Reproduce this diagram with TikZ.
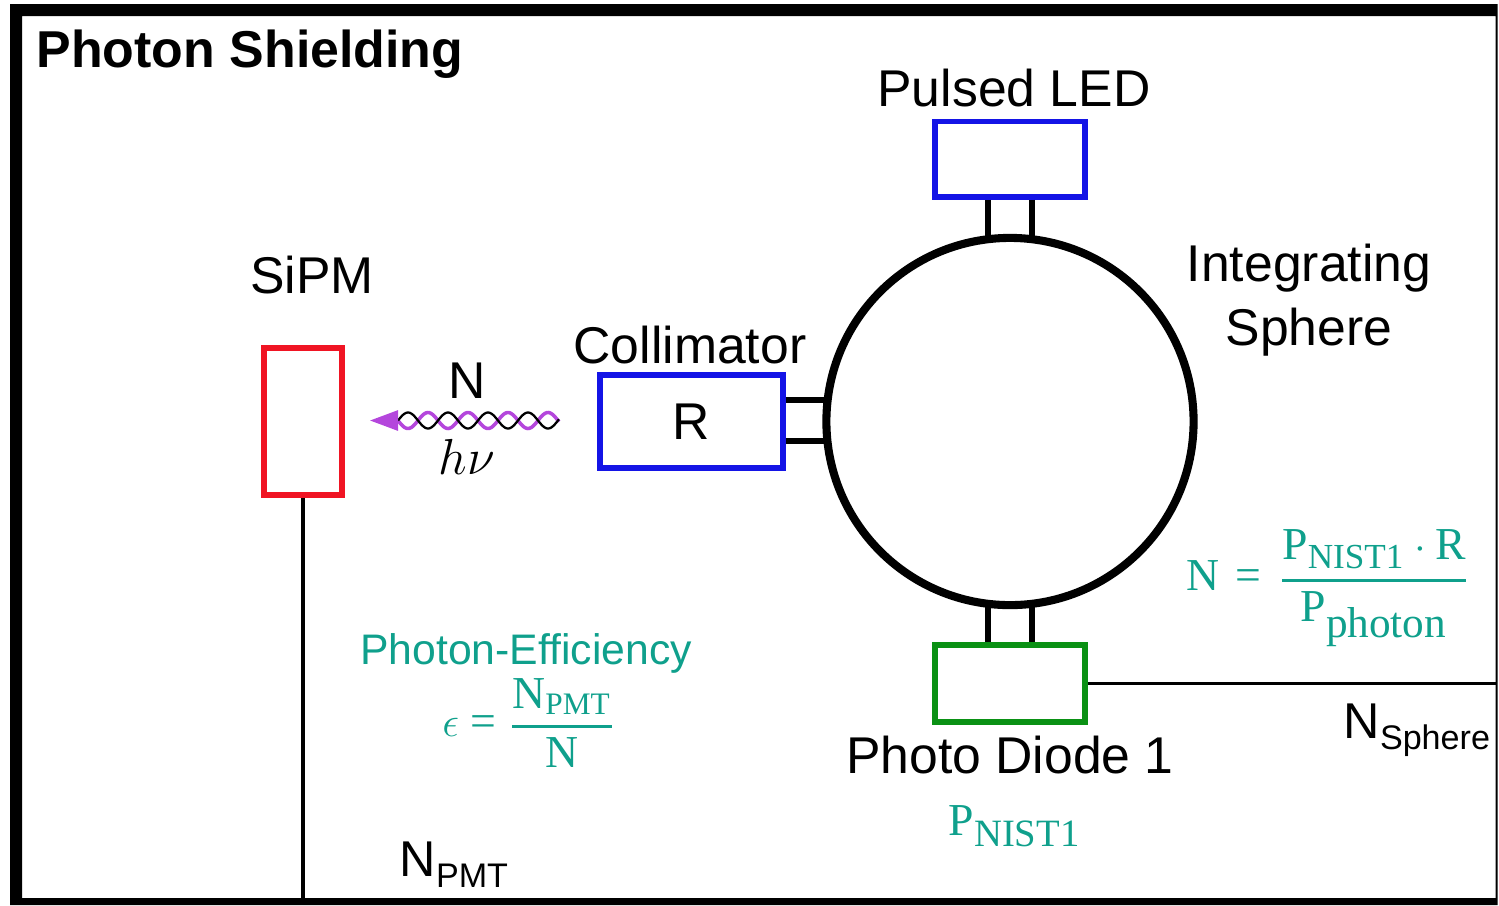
\documentclass[tikz,border=0pt]{standalone}
\usepackage{amsmath}
\usepackage{fontspec}
\setmainfont{Liberation Sans}
\newfontfamily\eqfont{Liberation Serif}
\usetikzlibrary{arrows.meta}
\definecolor{ledblue}{RGB}{20,20,230}
\definecolor{sipmred}{RGB}{240,20,35}
\definecolor{diodegreen}{RGB}{10,145,20}
\definecolor{eqteal}{RGB}{15,160,140}
\definecolor{waveviolet}{RGB}{180,70,220}
\newcommand{\eqtext}[1]{\mbox{\eqfont #1}}
\newcommand{\eqsub}[2]{\mbox{\eqfont\fontsize{#1}{#1}\selectfont #2}}
\newcommand{\eqfrac}[2]{\genfrac{}{}{0.95pt}{0}{#1}{#2}}
\tikzset{
  label text/.style={font=\fontsize{14.7}{16}\selectfont, inner sep=0pt, align=center},
  eq text/.style={text=eqteal, inner sep=0pt, font=\fontsize{13}{15}\selectfont},
  box/.style={draw=#1, line width=1.7pt, inner sep=0pt},
  stub/.style={line width=1.7pt, black},
  wire/.style={line width=1pt, black}
}
\begin{document}
\begin{tikzpicture}[x=0.01cm, y=-0.01cm]
  \useasboundingbox (0,0) rectangle (1499,905);
  % shielding frame
  \fill[black, even odd rule] (10,4) rectangle (1497.5,905) (22,16) rectangle (1495.5,898);
  \node[anchor=base west, inner sep=0pt, font=\fontsize{14.75}{16}\selectfont\bfseries] (title) at (36,67) {Photon Shielding};
  % sphere and ports
  \node[draw, circle, line width=2.3pt, minimum size=3.67cm, inner sep=0pt] (sphere) at (1010,421.5) {};
  \node[box=ledblue, minimum width=1.5cm, minimum height=0.75cm] (led) at (1010,159) {};
  \node[box=diodegreen, minimum width=1.5cm, minimum height=0.77cm] (diode) at (1010,683.5) {};
  \node[box=ledblue, minimum width=1.82cm, minimum height=0.92cm, font=\fontsize{14.7}{16}\selectfont] (coll) at (691.5,421.5) {R};
  \node[box=sipmred, minimum width=0.78cm, minimum height=1.47cm] (sipm) at (303,421.5) {};
  \draw[stub] ([xshift=-0.22cm]led.south) -- ([xshift=-0.22cm,yshift=-0.03cm]sphere.north);
  \draw[stub] ([xshift=0.22cm]led.south) -- ([xshift=0.22cm,yshift=-0.03cm]sphere.north);
  \draw[stub] ([xshift=-0.22cm]diode.north) -- ([xshift=-0.22cm,yshift=0.03cm]sphere.south);
  \draw[stub] ([xshift=0.22cm]diode.north) -- ([xshift=0.22cm,yshift=0.03cm]sphere.south);
  \draw[stub] ([yshift=0.215cm]coll.east) -- ([yshift=0.215cm,xshift=0.03cm]sphere.west);
  \draw[stub] ([yshift=-0.195cm]coll.east) -- ([yshift=-0.195cm,xshift=0.03cm]sphere.west);
  % readout lines
  \coordinate (sipmout) at (303,898);
  \coordinate (diodeout) at (1495.5,683.5);
  \draw[wire] (sipm.south) -- (sipmout);
  \draw[wire] (diode.east) -- (diodeout);
  % photon
  \coordinate (wavetip) at (398,420.5);
  \coordinate (arrowtip) at (370,420.5);
  \draw[waveviolet, line width=1pt, domain=398:559, samples=120, smooth] plot (\x,{420.5-8*cos(9*(\x-428))});
  \draw[black, line width=0.65pt, domain=398:559, samples=120, smooth] plot (\x,{420.5+8*cos(9*(\x-428))});
  \draw[-{Triangle[length=0.28cm,width=0.2cm]}, waveviolet, line width=0.8pt] (wavetip) -- (arrowtip);
  % labels
  \node[label text] (ledlabel) at (1014,88) {Pulsed LED};
  \node[label text] (spherelabel) at (1309,300) {Integrating\\[0.08cm]Sphere};
  \node[label text] (colllabel) at (690,345) {Collimator};
  \node[label text] (sipmlabel) at (312,275) {SiPM};
  \node[label text] (nlabel) at (467,381) {N};
  \node[inner sep=0pt, font=\fontsize{14}{16}\selectfont] (hnu) at (467,457) {$h\nu$};
  \node[label text] (diodelabel) at (1010,755) {Photo Diode 1};
  \node[anchor=base west, inner sep=0pt, font=\fontsize{14.3}{16}\selectfont] (nsphere) at (1343,738) {N\raisebox{-0.45ex}{\fontsize{9.7}{12}\selectfont Sphere}};
  \node[anchor=base west, inner sep=0pt, font=\fontsize{14.3}{16}\selectfont] (npmt) at (399,876) {N\raisebox{-0.45ex}{\fontsize{9.7}{12}\selectfont PMT}};
  % equations
  \node[eq text, font=\fontsize{12.15}{14}\selectfont] (efftitle) at (526,653.5) {Photon-Efficiency};
  \node[eq text] (effeq) at (529,723) {$\epsilon\;\eqtext{=}\;\eqfrac{\eqtext{N}_{\eqsub{8.9}{PMT}}}{\eqtext{N}}$};
  \node[eq text] (neq) at (1328.5,588) {$\eqtext{N}\;\mkern2mu\eqtext{=}\;\mkern2mu\eqfrac{\eqtext{P}_{\eqsub{10}{NIST1}}\cdot\eqtext{R}}{\eqtext{P}_{\eqsub{12.3}{photon}}}$};
  \node[eq text] (pnist) at (1015,826) {$\eqtext{P}_{\eqsub{11}{NIST1}}$};
\end{tikzpicture}
\end{document}
